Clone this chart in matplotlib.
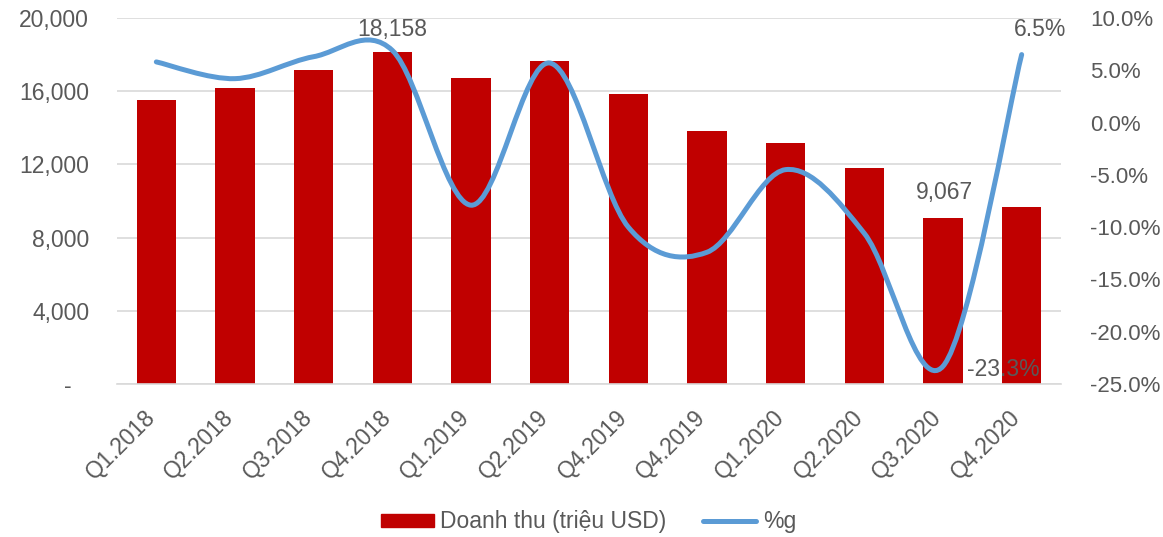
import matplotlib.pyplot as plt
from matplotlib.path import Path
from matplotlib.patches import PathPatch, Patch
from matplotlib.lines import Line2D
from matplotlib.ticker import FuncFormatter
from matplotlib.transforms import ScaledTranslation

plt.rcParams['font.family'] = ['Liberation Sans', 'DejaVu Sans']

quarters = ['Q1.2018', 'Q2.2018', 'Q3.2018', 'Q4.2018', 'Q1.2019', 'Q2.2019',
            'Q4.2019', 'Q4.2019', 'Q1.2020', 'Q2.2020', 'Q3.2020', 'Q4.2020']
revenue = [15520, 16170, 17160, 18158, 16730, 17650,
           15830, 13830, 13170, 11800, 9067, 9670]
growth = [5.8, 4.2, 6.3, 6.9, -7.9, 5.7,
          -10.0, -12.4, -4.5, -10.6, -23.3, 6.5]

BAR_COLOR = '#C00000'
LINE_COLOR = '#5B9BD5'
TEXT_COLOR = '#595959'
FS = 16.5

fig = plt.figure(figsize=(11.63, 5.37), dpi=100)
ax = fig.add_axes([0.1006, 0.2849, 0.8117, 0.6816])
ax2 = ax.twinx()

x = list(range(len(quarters)))
ax.bar(x, revenue, width=0.5, color=BAR_COLOR, zorder=2)
ax.set_xlim(-0.5, len(quarters) - 0.5)
ax.set_ylim(0, 20000)
ax.set_yticks(range(0, 20001, 4000))
ax.yaxis.set_major_formatter(FuncFormatter(lambda v, p: '-  \u2009' if v == 0 else f'{int(v):,}'))
ax.grid(axis='y', color='#D9D9D9', linewidth=1.2, zorder=0)
ax.set_axisbelow(True)
ax.set_xticks(x)
ax.set_xticklabels(quarters, rotation=45, ha='right', va='top', rotation_mode='anchor')
for s in ['top', 'right', 'left']:
    ax.spines[s].set_visible(False)
    ax2.spines[s].set_visible(False)
ax.spines['bottom'].set_color('#D9D9D9')
ax.spines['bottom'].set_linewidth(1.2)
ax2.spines['bottom'].set_visible(False)
ax.tick_params(axis='both', length=0, labelsize=FS, labelcolor=TEXT_COLOR)
ax.tick_params(axis='y', pad=20)
ax.tick_params(axis='x', pad=12)

# nudge the rotated labels left/down like Excel places them
shift = ScaledTranslation(-13 / 100, -5 / 100, fig.dpi_scale_trans)
for lbl in ax.get_xticklabels():
    lbl.set_transform(lbl.get_transform() + shift)

# smoothed line like Excel: cubic bezier segments through the points
ax2.set_ylim(-25, 10)
ax2.set_yticks(range(-25, 11, 5))
ax2.yaxis.set_major_formatter(FuncFormatter(lambda v, p: f'{v:.1f}%'))
ax2.tick_params(axis='y', length=0, labelsize=16, labelcolor=TEXT_COLOR, pad=21)

pts = list(zip(x, growth))
verts = [pts[0]]
codes = [Path.MOVETO]
n = len(pts)
for i in range(n - 1):
    p0 = pts[max(i - 1, 0)]
    p1 = pts[i]
    p2 = pts[i + 1]
    p3 = pts[min(i + 2, n - 1)]
    c1 = (p1[0] + (p2[0] - p0[0]) / 6, p1[1] + (p2[1] - p0[1]) / 6)
    c2 = (p2[0] - (p3[0] - p1[0]) / 6, p2[1] - (p3[1] - p1[1]) / 6)
    verts += [c1, c2, p2]
    codes += [Path.CURVE4] * 3
ax2.add_patch(PathPatch(Path(verts, codes), fill=False, edgecolor=LINE_COLOR,
                        linewidth=3.6, capstyle='round', joinstyle='round', zorder=3))

# data labels
ax.annotate('18,158', (3, revenue[3]), xytext=(0, 8), textcoords='offset points',
            ha='center', va='bottom', fontsize=FS, color=TEXT_COLOR)
ax.annotate('9,067', (10, revenue[10]), xytext=(1, 10), textcoords='offset points',
            ha='center', va='bottom', fontsize=FS, color=TEXT_COLOR)
ax2.annotate('6.5%', (11, growth[11]), xytext=(13, 10), textcoords='offset points',
             ha='center', va='bottom', fontsize=FS, color=TEXT_COLOR)
ax2.annotate('-23.3%', (10, growth[10]), xytext=(17, -2), textcoords='offset points',
             ha='left', va='center', fontsize=FS, color=TEXT_COLOR, zorder=4)

handles = [Patch(color=BAR_COLOR, label='Doanh thu (triệu USD)'),
           Line2D([], [], color=LINE_COLOR, linewidth=3.6, solid_capstyle='round', label='%g')]
fig.legend(handles=handles, loc='center', bbox_to_anchor=(0.506, 0.028), ncol=2,
           frameon=False, fontsize=FS, labelcolor=TEXT_COLOR, handlelength=2.3,
           handleheight=0.5, handletextpad=0.3, columnspacing=1.6)

fig.savefig('out.png', dpi=100)
